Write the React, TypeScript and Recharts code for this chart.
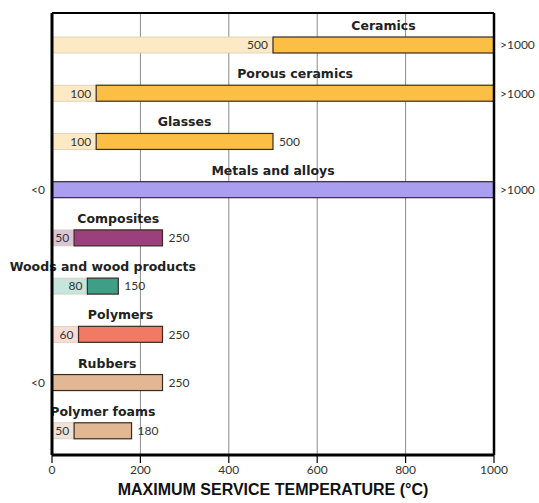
import React from "react";
import { BarChart, Bar, XAxis, YAxis, CartesianGrid } from "recharts";

const categories = [
  "Ceramics",
  "Porous ceramics",
  "Glasses",
  "Metals and alloys",
  "Composites",
  "Woods and wood products",
  "Polymers",
  "Rubbers",
  "Polymer foams",
];
const lowValues = [500, 100, 100, 0, 50, 80, 60, 0, 50];
const highValues = [1000, 1000, 500, 1000, 250, 150, 250, 250, 180];
const lowLabels = ["500", "100", "100", "<0", "50", "80", "60", "<0", "50"];
const highLabels = [">1000", ">1000", "500", ">1000", "250", "150", "250", "250", "180"];
const darkColors = ["#fbbf45", "#fbbf45", "#fbbf45", "#a99ef0", "#9c3f7d", "#3f9e86", "#f07a63", "#e2b794", "#e2b794"];
const lightColors = ["#fde9c4", "#fde9c4", "#fde9c4", "#e6e2fb", "#dcc5d2", "#c6e5dc", "#f9ddd5", "#f3e6da", "#eee3d6"];
const xTicks = [0, 200, 400, 600, 800, 1000];

const data = categories.map((name, i) => ({
  name,
  low: lowValues[i],
  span: highValues[i] - lowValues[i],
  lowLabel: lowLabels[i],
  highLabel: highLabels[i],
  dark: darkColors[i],
  light: lightColors[i],
}));

const numFont = "Lato, 'Open Sans', sans-serif";
const nameFont = "'DejaVu Sans', sans-serif";

const LightBar = (props: any) => {
  const { x, y, width, height, payload } = props;
  if (!width || width <= 0) return <g />;
  return (
    <g>
      <rect x={x} y={y} width={width} height={height} fill={payload.light} stroke="#d8ccb8" strokeWidth={0.8} />
      <text x={x + width - 5} y={y + height / 2} dy="0.36em" textAnchor="end" fontSize={12} fontFamily={numFont} fill="#333">
        {payload.lowLabel}
      </text>
    </g>
  );
};

const DarkBar = (props: any) => {
  const { x, y, width, height, payload } = props;
  return (
    <g>
      <rect x={x} y={y} width={width} height={height} fill={payload.dark} stroke="#3a2a22" strokeWidth={1.2} />
      <text x={x + width / 2} y={y - 7} textAnchor="middle" fontSize={12.5} fontWeight="bold" fontFamily={nameFont} fill="#222">
        {payload.name}
      </text>
      <text x={x + width + 6} y={y + height / 2} dy="0.36em" fontSize={12} fontFamily={numFont} fill="#333">
        {payload.highLabel}
      </text>
      {payload.low === 0 && (
        <text x={x - 7} y={y + height / 2} dy="0.36em" textAnchor="end" fontSize={12} fontFamily={numFont} fill="#333">
          {payload.lowLabel}
        </text>
      )}
    </g>
  );
};

export default function App() {
  return (
    <div style={{ position: "absolute", left: 0, top: 0, background: "#fff" }}>
      <BarChart
        width={539}
        height={503}
        data={data}
        layout="vertical"
        margin={{ top: 12, right: 44, bottom: 18, left: 51 }}
        barSize={16}
      >
        <CartesianGrid horizontal={false} stroke="#8a8a8a" strokeWidth={1} />
        <XAxis
          type="number"
          domain={[0, 1000]}
          ticks={xTicks}
          height={30}
          tickSize={8}
          axisLine={{ stroke: "#000", strokeWidth: 3 }}
          tickLine={{ stroke: "#000", strokeWidth: 1.2 }}
          tick={{ fill: "#333", fontSize: 12, fontFamily: numFont }}
          label={{
            value: "MAXIMUM SERVICE TEMPERATURE (°C)",
            position: "bottom",
            offset: -1,
            fill: "#111",
            fontSize: 16,
            fontWeight: "bold",
            fontFamily: "'Liberation Sans', Arial, sans-serif",
          }}
        />
        <XAxis
          xAxisId="top"
          orientation="top"
          type="number"
          domain={[0, 1000]}
          height={1}
          tick={false}
          tickLine={false}
          axisLine={{ stroke: "#000", strokeWidth: 2 }}
        />
        <YAxis
          type="category"
          dataKey="name"
          width={1}
          tick={false}
          tickLine={false}
          padding={{ top: 8, bottom: 0 }}
          axisLine={{ stroke: "#000", strokeWidth: 3 }}
        />
        <YAxis
          yAxisId="right"
          orientation="right"
          type="category"
          dataKey="name"
          width={1}
          tick={false}
          tickLine={false}
          padding={{ top: 8, bottom: 0 }}
          axisLine={{ stroke: "#000", strokeWidth: 2.5 }}
        />
        <Bar dataKey="low" stackId="a" shape={LightBar} isAnimationActive={false} />
        <Bar dataKey="span" stackId="a" shape={DarkBar} isAnimationActive={false} />
      </BarChart>
    </div>
  );
}
